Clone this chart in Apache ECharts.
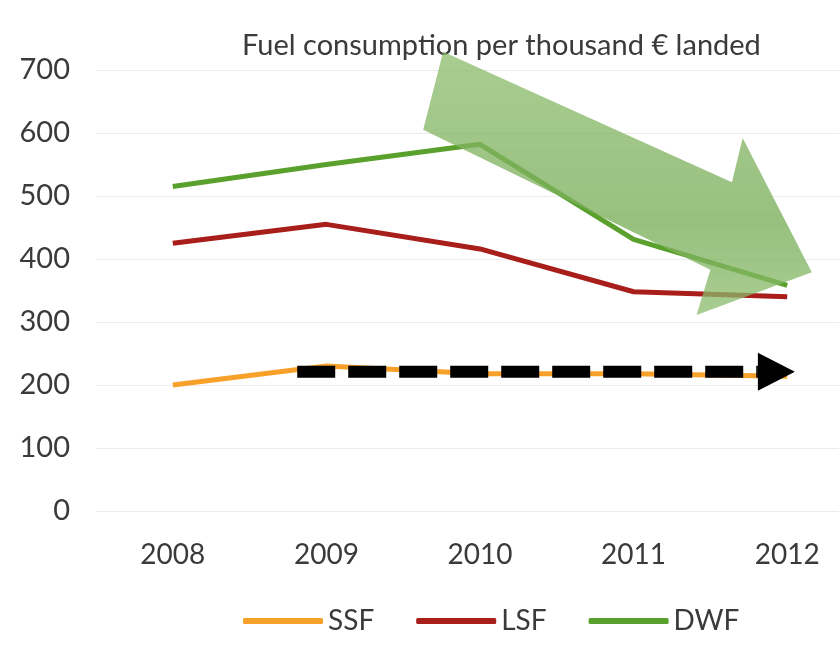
<!DOCTYPE html>
<html>
<head>
<meta charset="utf-8">
<script src="https://cdn.jsdelivr.net/npm/echarts@6/dist/echarts.min.js"></script>
<style>
html, body { margin: 0; background: #fff; }
#main { width: 839px; height: 651px; }
</style>
</head>
<body>
<div id="main"></div>
<script>
var years = ['2008', '2009', '2010', '2011', '2012'];
var ssf = [200, 230, 218, 218, 214];
var lsf = [425, 455, 416, 348, 340];
var dwf = [515, 550, 582, 431, 358];

// annotation shapes, given as [category index, value]
var downArrow = [[1.76, 729], [3.64, 522], [3.71, 592], [4.16, 379], [3.41, 311], [3.50, 383], [1.63, 605]];
var flatFrom = [0.81, 221];
var flatTo = [4.05, 221];

var font = 'Lato, "Open Sans", sans-serif';
var ink = '#3a3a3a';

var chart = echarts.init(document.getElementById('main'));
chart.setOption({
  animation: false,
  title: {
    text: 'Fuel consumption per thousand € landed',
    left: 237, top: 26,
    textStyle: {fontFamily: font, fontSize: 29, fontWeight: 'normal', color: ink}
  },
  legend: {
    data: ['SSF', 'LSF', 'DWF'],
    left: 238, top: 602,
    icon: 'roundRect',
    itemWidth: 80, itemHeight: 6, itemGap: 42,
    textStyle: {fontFamily: font, fontSize: 28, color: ink}
  },
  grid: {left: 96, top: 70, width: 768, height: 441, outerBoundsMode: 'none'},
  xAxis: {
    type: 'category',
    data: years,
    axisLine: {show: false},
    axisTick: {show: false},
    axisLabel: {fontFamily: font, fontSize: 28, color: ink, margin: 30}
  },
  yAxis: {
    type: 'value',
    min: 0, max: 700, interval: 100,
    axisLabel: {fontFamily: font, fontSize: 29, color: ink, margin: 26},
    splitLine: {lineStyle: {color: '#ececec', width: 1}}
  },
  series: [
    {name: 'SSF', type: 'line', data: ssf, symbol: 'none', color: '#f7a12a', lineStyle: {width: 5}},
    {name: 'LSF', type: 'line', data: lsf, symbol: 'none', color: '#a81e1a', lineStyle: {width: 5}},
    {name: 'DWF', type: 'line', data: dwf, symbol: 'none', color: '#5aa02c', lineStyle: {width: 5}}
  ]
});

// map a fractional category index + value to pixels
var p0 = chart.convertToPixel({gridIndex: 0}, [0, 0]);
var p1 = chart.convertToPixel({gridIndex: 0}, [1, 100]);
function px(pt) {
  return [p0[0] + pt[0] * (p1[0] - p0[0]), p0[1] + pt[1] / 100 * (p1[1] - p0[1])];
}

var a = px(flatFrom), b = px(flatTo);
var head = 37;
chart.setOption({
  graphic: [
    {
      type: 'polygon', z: 100,
      shape: {points: downArrow.map(px)},
      style: {
        fill: new echarts.graphic.LinearGradient(0, 0, 0, 1, [
          {offset: 0, color: 'rgba(140,188,108,0.75)'},
          {offset: 0.65, color: 'rgba(122,174,90,0.78)'},
          {offset: 1, color: 'rgba(140,188,108,0.75)'}
        ])
      }
    },
    {
      type: 'line', z: 100,
      shape: {x1: a[0], y1: a[1], x2: b[0] - head, y2: b[1]},
      style: {stroke: '#000', lineWidth: 12, lineDash: [38, 13]}
    },
    {
      type: 'polygon', z: 100,
      shape: {points: [[b[0] - head, b[1] - 19], [b[0], b[1]], [b[0] - head, b[1] + 19]]},
      style: {fill: '#000'}
    }
  ]
});
</script>
</body>
</html>
